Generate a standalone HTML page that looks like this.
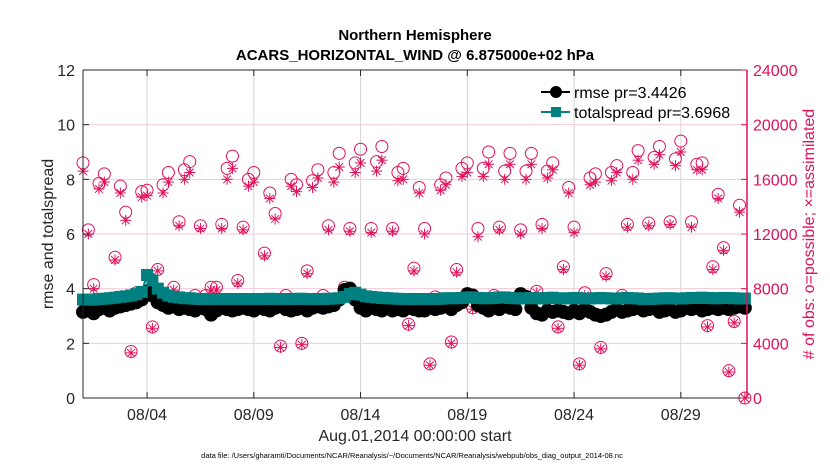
<!DOCTYPE html>
<html><head><meta charset="utf-8"><style>
body{margin:0;background:#fff}
svg{display:block;font-family:"Liberation Sans",sans-serif}
</style></head><body>
<svg id="chart" width="830" height="470" viewBox="0 0 830 470"></svg>
<script>
const nObsPossible=[17200,12300,8300,15700,16400,6700,10300,15500,13600,3400,7700,15100,15200,5200,9400,15600,16500,8100,12900,16700,17300,7500,12600,7500,8100,8100,12700,16800,17700,8600,12500,16000,16500,6700,10600,15000,13500,3800,7500,16000,15600,4000,9300,15900,16700,7500,12600,16500,17900,8100,12400,17200,18200,7100,12400,17300,18400,7300,12400,16500,16800,5400,9500,15400,12400,2500,7400,15600,16100,4100,9400,16800,17200,6600,12400,16800,18000,7500,12500,16600,17900,7100,12300,16600,17900,7800,12700,16600,17200,5200,9600,15400,12500,2500,7700,16100,16400,3700,9100,16500,17000,7500,12700,16500,18100,6500,12800,17600,18400,6700,12900,17500,18800,7200,12900,17100,17200,5300,9600,14900,11000,2000,5600,14100,0];
const nObsAssim=[16600,12000,8000,15300,15800,6500,10100,15000,13000,3300,7500,14700,14800,5100,9300,15000,15800,7900,12600,16000,16500,7300,12400,7300,7900,7900,12400,16000,16800,8400,12300,15500,15800,6600,10400,14600,13100,3700,7300,15500,15100,3900,9100,15400,16100,7300,12300,15800,16900,7900,12200,16500,17200,7000,12100,16600,17400,7200,12200,15900,16000,5300,9300,15000,12000,2400,7200,15200,15600,4000,9200,16200,16500,6500,11800,16200,17100,7400,12300,16000,17100,7000,12000,16000,17100,7700,12400,16100,16700,5100,9400,15000,12100,2400,7500,15600,15800,3600,8900,15900,16500,7400,12500,16000,17400,6400,12600,17100,17800,6600,12700,17000,18000,7100,12500,16700,16700,5200,9400,14600,10800,1900,5500,13600,0];
const rmse=[3.15,3.2,3.1,3.25,3.3,3.2,3.3,3.35,3.4,3.45,3.5,3.6,3.9,3.75,3.5,3.4,3.3,3.35,3.25,3.3,3.25,3.2,3.3,3.25,3.05,3.2,3.3,3.25,3.2,3.25,3.3,3.25,3.2,3.3,3.25,3.2,3.3,3.35,3.25,3.2,3.25,3.3,3.2,3.3,3.35,3.3,3.35,3.4,3.6,3.95,4.0,3.6,3.3,3.2,3.3,3.25,3.2,3.3,3.2,3.25,3.2,3.3,3.25,3.2,3.2,3.3,3.25,3.3,3.35,3.25,3.4,3.5,3.8,3.75,3.4,3.3,3.2,3.3,3.25,3.35,3.3,3.25,3.8,3.7,3.3,3.1,3.05,3.2,3.15,3.2,3.15,3.1,3.2,3.1,3.25,3.15,3.05,3.0,3.05,3.15,3.25,3.15,3.2,3.25,3.3,3.2,3.25,3.3,3.15,3.2,3.25,3.15,3.2,3.3,3.25,3.3,3.2,3.25,3.3,3.25,3.3,3.25,3.3,3.35,3.3];
const spread=[3.6,3.6,3.6,3.62,3.63,3.65,3.67,3.7,3.72,3.75,3.8,3.88,4.5,4.3,4.0,3.85,3.75,3.7,3.68,3.65,3.65,3.63,3.62,3.62,3.62,3.62,3.62,3.62,3.62,3.62,3.62,3.62,3.62,3.62,3.62,3.63,3.62,3.62,3.62,3.62,3.63,3.63,3.62,3.62,3.62,3.62,3.63,3.64,3.65,3.7,3.8,3.85,3.78,3.72,3.7,3.68,3.66,3.65,3.64,3.63,3.62,3.62,3.62,3.62,3.62,3.62,3.62,3.63,3.65,3.65,3.65,3.66,3.68,3.68,3.66,3.65,3.65,3.66,3.68,3.68,3.66,3.65,3.64,3.65,3.66,3.65,3.64,3.66,3.67,3.65,3.64,3.65,3.66,3.65,3.64,3.64,3.65,3.66,3.65,3.64,3.64,3.65,3.66,3.65,3.64,3.62,3.62,3.63,3.64,3.65,3.65,3.64,3.64,3.65,3.66,3.66,3.67,3.66,3.65,3.65,3.66,3.66,3.65,3.64,3.64];
const xTickDays=[3,8,13,18,23,28];
const xTickLabels=['08/04','08/09','08/14','08/19','08/24','08/29'];
const yLeftTicks=[0,2,4,6,8,10,12];
const yRightTicks=[0,4000,8000,12000,16000,20000,24000];

const L=83,R=747,T=70,B=398,DAYS=31.1;
const xs=d=>L+(R-L)*d/DAYS;
const yl=v=>B-(B-T)*v/12;
const yr=v=>B-(B-T)*v/24000;
const svg=document.getElementById('chart');
const NS='http://www.w3.org/2000/svg';
function mk(tag,attrs,parent){const e=document.createElementNS(NS,tag);for(const k in attrs)e.setAttribute(k,attrs[k]);(parent||svg).appendChild(e);return e;}
const PINK='#e0105a';

xTickDays.forEach((d,i)=>{
 const g=mk('line',{x1:xs(d),x2:xs(d),y1:T,y2:B,stroke:'#d4d4d4','stroke-width':1});
 
 
});
yRightTicks.forEach(v=>{
 if(v===0||v===24000)return;
 const g=mk('line',{x1:L,x2:R,y1:yr(v),y2:yr(v),stroke:'#f6c8d8','stroke-width':1});
 
 
});

const obsG=mk('g',{});


nObsPossible.forEach((v,i)=>{
 const x=xs(i*0.25),y=yr(v);
 const c=mk('circle',{cx:x,cy:y,r:6,fill:'none',stroke:PINK,'stroke-width':1},obsG);
 
 
});
nObsAssim.forEach((v,i)=>{
 const x=xs(i*0.25),y=yr(v),r=5.5;
 const g=mk('g',{stroke:PINK,'stroke-width':1},obsG);
 
 
 mk('line',{x1:x-r,x2:x+r,y1:y,y2:y},g);
 mk('line',{x1:x,x2:x,y1:y-r,y2:y+r},g);
 mk('line',{x1:x-r*0.7,x2:x+r*0.7,y1:y-r*0.7,y2:y+r*0.7},g);
 mk('line',{x1:x-r*0.7,x2:x+r*0.7,y1:y+r*0.7,y2:y-r*0.7},g);
});

const rG=mk('g',{});


mk('polyline',{points:rmse.map((v,i)=>xs(i*0.25)+','+yl(v)).join(' '),fill:'none',stroke:'#000','stroke-width':2},rG);
rmse.forEach((v,i)=>{
 const c=mk('circle',{cx:xs(i*0.25),cy:yl(v),r:7,fill:'#000'},rG);
 
 
});
const sG=mk('g',{});


mk('polyline',{points:spread.map((v,i)=>xs(i*0.25)+','+yl(v)).join(' '),fill:'none',stroke:'#008080','stroke-width':2},sG);
spread.forEach((v,i)=>{
 const s=mk('rect',{x:xs(i*0.25)-6,y:yl(v)-6,width:12,height:12,fill:'#008080'},sG);
 
 
});

const ax=mk('g',{});


mk('line',{x1:L,x2:L,y1:T,y2:B,stroke:'#262626','stroke-width':1},ax);
mk('line',{x1:L,x2:R,y1:B,y2:B,stroke:'#262626','stroke-width':1},ax);
mk('line',{x1:L,x2:R,y1:T,y2:T,stroke:'#262626','stroke-width':1},ax);
mk('line',{x1:R,x2:R,y1:T,y2:B,stroke:PINK,'stroke-width':1.5},ax);
yLeftTicks.forEach(v=>{
 mk('line',{x1:L,x2:L+6,y1:yl(v),y2:yl(v),stroke:'#262626'},ax);
 const t=mk('text',{x:L-8,y:yl(v)+6,'text-anchor':'end','font-size':16,fill:'#262626'},ax);
 t.textContent=v;
 
 
});
yRightTicks.forEach(v=>{
 mk('line',{x1:R-6,x2:R,y1:yr(v),y2:yr(v),stroke:PINK},ax);
 const t=mk('text',{x:R+6,y:yr(v)+6,'font-size':16,fill:PINK},ax);
 t.textContent=v;
 
 
});
xTickDays.forEach((d,i)=>{
 mk('line',{x1:xs(d),x2:xs(d),y1:B-6,y2:B,stroke:'#262626'},ax);
 mk('line',{x1:xs(d),x2:xs(d),y1:T,y2:T+6,stroke:'#262626'},ax);
 const t=mk('text',{x:xs(d),y:B+22,'text-anchor':'middle','font-size':16,fill:'#262626'},ax);
 t.textContent=xTickLabels[i];
 
 
});
</script>
<svg style="position:absolute;left:0;top:0" width="830" height="470">
 <text x="415" y="40" text-anchor="middle" font-size="15" font-weight="bold" fill="#000">Northern Hemisphere</text>
 <text x="415" y="60" text-anchor="middle" font-size="15" font-weight="bold" fill="#000">ACARS_HORIZONTAL_WIND @ 6.875000e+02 hPa</text>
 <text transform="translate(53,234) rotate(-90)" text-anchor="middle" font-size="16" fill="#262626">rmse and totalspread</text>
 <text transform="translate(814,234) rotate(-90)" text-anchor="middle" font-size="16" fill="#e0105a"># of obs: o=possible; ×=assimilated</text>
 <text x="415" y="441" text-anchor="middle" font-size="16" fill="#262626">Aug.01,2014 00:00:00 start</text>
 <text x="412" y="458" text-anchor="middle" font-size="7.5" fill="#000">data file: /Users/gharamti/Documents/NCAR/Reanalysis/~/Documents/NCAR/Reanalysis/webpub/obs_diag_output_2014-08.nc</text>
 <g>
  <line x1="541" x2="570" y1="92" y2="92" stroke="#000" stroke-width="2"/>
  <circle cx="556" cy="92" r="6" fill="#000"/>
  <text x="574" y="98" font-size="16" fill="#000">rmse pr=3.4426</text>
  <line x1="541" x2="570" y1="112" y2="112" stroke="#008080" stroke-width="2"/>
  <rect x="551" y="107" width="10" height="10" fill="#008080"/>
  <text x="574" y="118" font-size="16" fill="#000">totalspread pr=3.6968</text>
 </g>
</svg>
</body></html>
